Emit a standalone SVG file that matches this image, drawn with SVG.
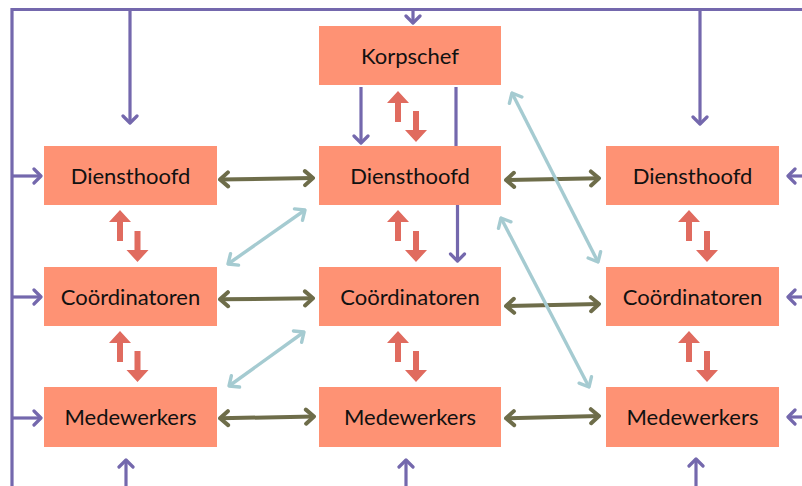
<svg xmlns="http://www.w3.org/2000/svg" width="802" height="486" viewBox="0 0 802 486">
<defs>
<style>
.box{fill:#fe9274}
.lbl{font-family:Lato,"Liberation Sans",sans-serif;font-size:22px;fill:#111;text-anchor:middle}
.pu{stroke:#7468ad;stroke-width:3.2;fill:none}
.ol{stroke:#6e6d4a;stroke-width:4;fill:none}
.bl{stroke:#a5cbd1;stroke-width:3.4;fill:none}
.rd{fill:#e06b5f}
</style>
<marker id="mp" markerUnits="userSpaceOnUse" viewBox="-12 -10 14 20" markerWidth="14" markerHeight="20" refX="0" refY="0" orient="auto-start-reverse">
<path d="M-7,-7 L0,0 L-7,7" fill="none" stroke="#7468ad" stroke-width="3.2" stroke-linecap="round" stroke-linejoin="round"/>
</marker>
<marker id="mo" markerUnits="userSpaceOnUse" viewBox="-12 -10 14 20" markerWidth="14" markerHeight="20" refX="0" refY="0" orient="auto-start-reverse">
<path d="M-8,-7 L0,0 L-8,7" fill="none" stroke="#6e6d4a" stroke-width="4" stroke-linecap="round" stroke-linejoin="round"/>
</marker>
<marker id="mb" markerUnits="userSpaceOnUse" viewBox="-12 -10 14 20" markerWidth="14" markerHeight="20" refX="0" refY="0" orient="auto-start-reverse">
<path d="M-8,-7 L0,0 L-8,7" fill="none" stroke="#a5cbd1" stroke-width="3.4" stroke-linecap="round" stroke-linejoin="round"/>
</marker>
</defs>
<rect width="802" height="486" fill="#ffffff"/>
<g id="connectors">
<path class="pu" d="M12,486 L12,9.5 L802,9.5"/>
<path class="pu" d="M130,9.5 V123" marker-end="url(#mp)"/>
<path class="pu" d="M413,9.5 V23" marker-end="url(#mp)"/>
<path class="pu" d="M700,9.5 V124" marker-end="url(#mp)"/>
<path class="pu" d="M12,176 H41" marker-end="url(#mp)"/>
<path class="pu" d="M12,297 H41" marker-end="url(#mp)"/>
<path class="pu" d="M12,418 H41" marker-end="url(#mp)"/>
<path class="pu" d="M802,176 H788" marker-end="url(#mp)"/>
<path class="pu" d="M802,297 H788" marker-end="url(#mp)"/>
<path class="pu" d="M802,417 H788" marker-end="url(#mp)"/>
<path class="pu" d="M126,486 V460" marker-end="url(#mp)"/>
<path class="pu" d="M406,486 V460" marker-end="url(#mp)"/>
<path class="pu" d="M696,486 V459" marker-end="url(#mp)"/>
<path class="pu" d="M361,87 V143" marker-end="url(#mp)"/>
<path class="pu" d="M456,87 V146"/>
<path class="pu" d="M457.5,205 V261" marker-end="url(#mp)"/>
<path class="ol" d="M220,179.5 L313,178" marker-start="url(#mo)" marker-end="url(#mo)"/>
<path class="ol" d="M506,180 L599,178.3" marker-start="url(#mo)" marker-end="url(#mo)"/>
<path class="ol" d="M220,299.3 L313,298.3" marker-start="url(#mo)" marker-end="url(#mo)"/>
<path class="ol" d="M506,306 L599,304" marker-start="url(#mo)" marker-end="url(#mo)"/>
<path class="ol" d="M220,418.3 L314,416.5" marker-start="url(#mo)" marker-end="url(#mo)"/>
<path class="ol" d="M506,418.3 L599,416" marker-start="url(#mo)" marker-end="url(#mo)"/>
<path class="bl" d="M228,264 L305,210" marker-start="url(#mb)" marker-end="url(#mb)"/>
<path class="bl" d="M229,386 L304,332" marker-start="url(#mb)" marker-end="url(#mb)"/>
<path class="bl" d="M512,93 L598,262" marker-start="url(#mb)" marker-end="url(#mb)"/>
<path class="bl" d="M501,218 L589,387" marker-start="url(#mb)" marker-end="url(#mb)"/>
<g class="rd">
<polygon points="398,91 409,103 401,103 401,122 395,122 395,103 387,103"/>
<polygon points="416,142 427,130 419,130 419,111 413,111 413,130 405,130"/>
<polygon points="120,210 131,222 123,222 123,241 117,241 117,222 109,222"/>
<polygon points="137.5,262 148.5,250 140.5,250 140.5,231 134.5,231 134.5,250 126.5,250"/>
<polygon points="398,210 409,222 401,222 401,241 395,241 395,222 387,222"/>
<polygon points="416,262 427,250 419,250 419,231 413,231 413,250 405,250"/>
<polygon points="689,210 700,222 692,222 692,241 686,241 686,222 678,222"/>
<polygon points="707,262 718,250 710,250 710,231 704,231 704,250 696,250"/>
<polygon points="120,331 131,343 123,343 123,362 117,362 117,343 109,343"/>
<polygon points="137.5,382 148.5,370 140.5,370 140.5,351 134.5,351 134.5,370 126.5,370"/>
<polygon points="398,331 409,343 401,343 401,362 395,362 395,343 387,343"/>
<polygon points="416,382 427,370 419,370 419,351 413,351 413,370 405,370"/>
<polygon points="689,331 700,343 692,343 692,362 686,362 686,343 678,343"/>
<polygon points="707,382 718,370 710,370 710,351 704,351 704,370 696,370"/>
</g>
</g>
<g id="korpschef"><rect class="box" x="319" y="26" width="182" height="59"/><text class="lbl" x="410" y="63.5">Korpschef</text></g>
<g id="diensthoofd-l"><rect class="box" x="44" y="146" width="173" height="59"/><text class="lbl" x="130.5" y="183.5">Diensthoofd</text></g>
<g id="diensthoofd-c"><rect class="box" x="319" y="146" width="182" height="59"/><text class="lbl" x="410" y="183.5">Diensthoofd</text></g>
<g id="diensthoofd-r"><rect class="box" x="606" y="146" width="173" height="59"/><text class="lbl" x="692.5" y="183.5">Diensthoofd</text></g>
<g id="coordinatoren-l"><rect class="box" x="44" y="267" width="173" height="59"/><text class="lbl" x="130.5" y="304.5">Coördinatoren</text></g>
<g id="coordinatoren-c"><rect class="box" x="319" y="267" width="182" height="59"/><text class="lbl" x="410" y="304.5">Coördinatoren</text></g>
<g id="coordinatoren-r"><rect class="box" x="606" y="267" width="173" height="59"/><text class="lbl" x="692.5" y="304.5">Coördinatoren</text></g>
<g id="medewerkers-l"><rect class="box" x="44" y="387" width="173" height="60"/><text class="lbl" x="130.5" y="424.5">Medewerkers</text></g>
<g id="medewerkers-c"><rect class="box" x="319" y="387" width="182" height="60"/><text class="lbl" x="410" y="424.5">Medewerkers</text></g>
<g id="medewerkers-r"><rect class="box" x="606" y="387" width="173" height="60"/><text class="lbl" x="692.5" y="424.5">Medewerkers</text></g>
</svg>
